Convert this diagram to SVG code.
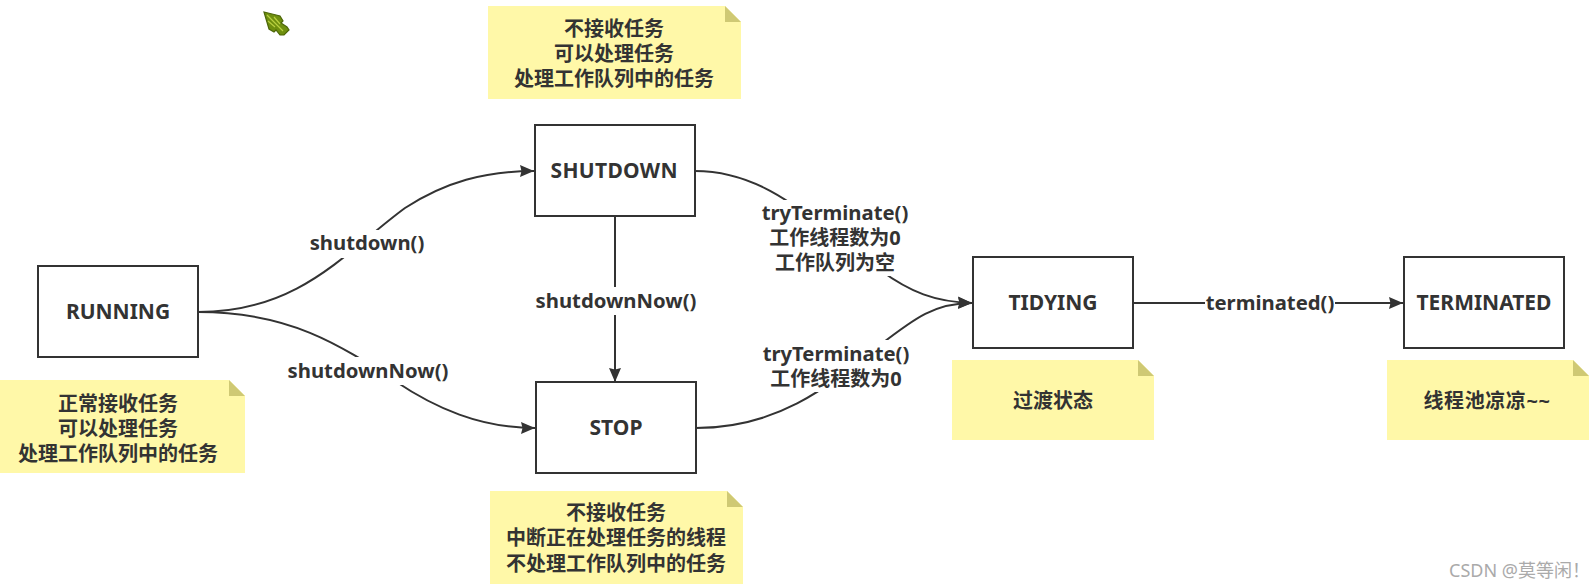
<svg xmlns="http://www.w3.org/2000/svg" width="1593" height="588" viewBox="0 0 1593 588">
<style>
.box{fill:#fff;stroke:#333;stroke-width:2}
.note{fill:#fff8a8}
.fold{fill:#cfc974}
.edge{fill:none;stroke:#333;stroke-width:2}
text{font-family:"Noto Sans","Noto Sans CJK SC",sans-serif;font-weight:700;font-size:20px;fill:#333;text-anchor:middle}
.name{font-size:21px}
.call{font-size:20.3px}
.mark{font-family:"Noto Sans","Noto Sans CJK SC",sans-serif;font-weight:400;font-size:18px;fill:#aaa;text-anchor:end}
</style>
<defs>
<marker id="arrow" markerUnits="userSpaceOnUse" markerWidth="16" markerHeight="14" refX="14" refY="7" orient="auto"><path d="M0 1L14 7L0 13L1.5 7Z" fill="#333"/></marker>
</defs>
<rect width="1593" height="588" fill="#fff"/>
<g id="pointer">
<path d="M264 12L280 16L283 21L281 23L287 27L289 30L284 35L280 35L276 30L274 32L269 29Z" fill="#6f8f0e" stroke="#4c6608" stroke-width="1.2"/>
<path d="M267 15L283 31M268 21L275 27M274 17L280 24" fill="none" stroke="#b9d040" stroke-width="1.2"/>
</g>
<g id="connectors">
<path class="edge" marker-end="url(#arrow)" d="M198 312C300 312 345 252 405 208C445 182 485 171 534 171"/>
<path class="edge" marker-end="url(#arrow)" d="M198 312C290 312 340 345 395 381C435 408 480 428 535 428"/>
<path class="edge" marker-end="url(#arrow)" d="M615 216V382"/>
<path class="edge" marker-end="url(#arrow)" d="M695 171C770 171 815 225 880 270C910 292 935 302 972 303"/>
<path class="edge" marker-end="url(#arrow)" d="M696 428C780 428 830 385 880 345C915 318 935 303 972 303"/>
<path class="edge" marker-end="url(#arrow)" d="M1133 303H1403"/>
</g>
<g id="edge-labels">
<rect x="305" y="230" width="122" height="28" fill="#fff"/>
<text x="367" y="250" class="call">shutdown()</text>
<rect x="282" y="357" width="167" height="28" fill="#fff"/>
<text x="368" y="378" class="call">shutdownNow()</text>
<rect x="530" y="287" width="170" height="28" fill="#fff"/>
<text x="616" y="308" class="call">shutdownNow()</text>
<rect x="755" y="200" width="160" height="76" fill="#fff"/>
<text x="835" y="220" class="call">tryTerminate()</text>
<text x="835" y="245">工作线程数为0</text>
<text x="835" y="270">工作队列为空</text>
<rect x="755" y="340" width="160" height="52" fill="#fff"/>
<text x="836" y="361" class="call">tryTerminate()</text>
<text x="836" y="386">工作线程数为0</text>
<rect x="1205" y="290" width="130" height="26" fill="#fff"/>
<text x="1270" y="310" class="call">terminated()</text>
</g>
<g id="running"><rect class="box" x="38" y="266" width="160" height="91"/><text class="name" x="118" y="319">RUNNING</text></g>
<g id="shutdown"><rect class="box" x="535" y="125" width="160" height="91"/><text class="name" x="614" y="178" textLength="127">SHUTDOWN</text></g>
<g id="stop"><rect class="box" x="536" y="382" width="160" height="91"/><text class="name" x="616" y="435">STOP</text></g>
<g id="tidying"><rect class="box" x="973" y="257" width="160" height="91"/><text class="name" x="1053" y="310">TIDYING</text></g>
<g id="terminated"><rect class="box" x="1404" y="257" width="160" height="91"/><text class="name" x="1484" y="310">TERMINATED</text></g>
<g id="note-running">
<path class="note" d="M0 380H229L245 396V473H0Z"/><path class="fold" d="M229 380L245 396H229Z"/>
<text x="118" y="411">正常接收任务</text><text x="118" y="436">可以处理任务</text><text x="118" y="461">处理工作队列中的任务</text>
</g>
<g id="note-shutdown">
<path class="note" d="M488 6H725L741 22V99H488Z"/><path class="fold" d="M725 6L741 22H725Z"/>
<text x="614" y="36">不接收任务</text><text x="614" y="61">可以处理任务</text><text x="614" y="86">处理工作队列中的任务</text>
</g>
<g id="note-stop">
<path class="note" d="M490 491H727L743 507V584H490Z"/><path class="fold" d="M727 491L743 507H727Z"/>
<text x="616" y="520">不接收任务</text><text x="616" y="545">中断正在处理任务的线程</text><text x="616" y="571">不处理工作队列中的任务</text>
</g>
<g id="note-tidying">
<path class="note" d="M952 360H1138L1154 376V440H952Z"/><path class="fold" d="M1138 360L1154 376H1138Z"/>
<text x="1053" y="408">过渡状态</text>
</g>
<g id="note-terminated">
<path class="note" d="M1387 360H1573L1589 376V440H1387Z"/><path class="fold" d="M1573 360L1589 376H1573Z"/>
<text x="1487" y="408" letter-spacing="0.6">线程池凉凉~~</text>
</g>
<text class="mark" x="1590" y="577">CSDN @莫等闲！</text>
</svg>
